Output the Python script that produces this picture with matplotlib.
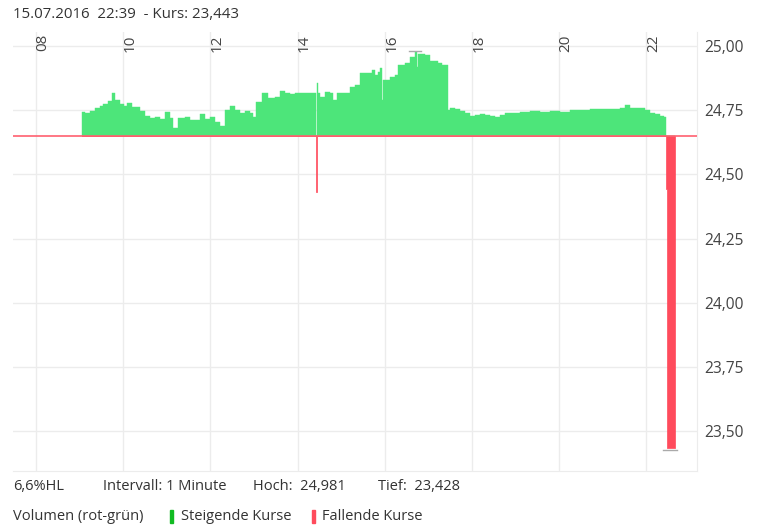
import matplotlib.pyplot as plt
import numpy as np

plt.rcParams['font.family'] = ['Open Sans', 'DejaVu Sans']

# minute prices (HH:MM, price)
times = ["09:03", "09:07", "09:14", "09:21", "09:28", "09:32", "09:39", "09:45", "09:49", "09:56",
         "10:01", "10:05", "10:12", "10:23", "10:30", "10:37", "10:44", "10:51", "10:58", "11:04",
         "11:09", "11:15", "11:25", "11:32", "11:46", "11:53", "11:59", "12:06", "12:13", "12:20",
         "12:27", "12:34", "12:41", "12:48", "12:54", "12:59", "13:03", "13:11", "13:19", "13:29",
         "13:36", "13:43", "13:50", "13:56", "14:03", "14:17", "14:24", "14:25", "14:27", "14:28",
         "14:31", "14:38", "14:45", "14:49", "14:54", "15:05", "15:12", "15:19", "15:26", "15:33",
         "15:40", "15:42", "15:46", "15:51", "15:53", "15:56", "15:58", "16:07", "16:14", "16:18",
         "16:28", "16:35", "16:42", "16:44", "16:46", "16:55", "17:02", "17:13", "17:19", "17:23",
         "17:27", "17:30", "17:37", "17:43", "17:50", "17:57", "18:04", "18:11", "18:18", "18:25",
         "18:32", "18:38", "18:45", "18:52", "19:06", "19:20", "19:34", "19:47", "20:01", "20:15",
         "20:29", "20:42", "20:56", "21:10", "21:24", "21:30", "21:37", "21:48", "21:58", "22:05",
         "22:12", "22:19", "22:24", "22:27", "22:28", "22:39"]
prices = [24.743, 24.739, 24.747, 24.759, 24.767, 24.774, 24.786, 24.817, 24.790, 24.774,
          24.767, 24.778, 24.763, 24.747, 24.728, 24.720, 24.724, 24.716, 24.743, 24.720,
          24.681, 24.720, 24.724, 24.712, 24.735, 24.716, 24.724, 24.704, 24.689, 24.751,
          24.767, 24.751, 24.739, 24.747, 24.739, 24.724, 24.782, 24.817, 24.798, 24.802,
          24.825, 24.817, 24.813, 24.817, 24.817, 24.817, 24.817, 24.430, 24.856, 24.817,
          24.802, 24.821, 24.817, 24.790, 24.817, 24.817, 24.840, 24.848, 24.895, 24.895,
          24.895, 24.907, 24.887, 24.899, 24.914, 24.790, 24.868, 24.879, 24.887, 24.926,
          24.934, 24.957, 24.977, 24.918, 24.969, 24.965, 24.942, 24.934, 24.926, 24.926,
          24.751, 24.759, 24.755, 24.747, 24.739, 24.728, 24.732, 24.735, 24.732, 24.728,
          24.724, 24.732, 24.739, 24.739, 24.743, 24.747, 24.743, 24.747, 24.743, 24.751,
          24.751, 24.755, 24.755, 24.755, 24.759, 24.770, 24.759, 24.759, 24.751, 24.739,
          24.735, 24.728, 24.724, 24.444, 23.436, 23.443]

prev_close = 24.65
high_price, high_time = 24.981, "16:42"
low_price, low_time = 23.428, "22:32"
hour_ticks = [8, 10, 12, 14, 16, 18, 20, 22]
price_ticks = [23.50, 23.75, 24.00, 24.25, 24.50, 24.75, 25.00]


def to_hours(s):
    h, m = s.split(":")
    return int(h) + int(m) / 60


t = np.array([to_hours(s) for s in times])
p = np.array(prices)

green = '#4de57a'
red = '#ff4b5c'
grid = '#ececec'
txt = '#333333'

fig = plt.figure(figsize=(7.62, 5.29), dpi=100)
ax = fig.add_axes([13 / 762, 1 - 471 / 529, (697 - 13) / 762, (471 - 32) / 529])

ax.fill_between(t, prev_close, np.maximum(p, prev_close), step='post',
                facecolor=green, edgecolor=green, lw=0.3)
ax.fill_between(t, prev_close, np.minimum(p, prev_close), step='post',
                facecolor=red, edgecolor=red, lw=0.5)
ax.axhline(prev_close, color='#ff6070', lw=1.2, zorder=3)

# high / low markers
ht = to_hours(high_time)
lt = to_hours(low_time)
ax.plot([ht - 0.14, ht + 0.14], [high_price, high_price], color='#aaaaaa', lw=1)
ax.plot([lt - 0.16, lt + 0.16], [low_price, low_price], color='#aaaaaa', lw=1)

ax.set_xlim(7.472, 23.161)
ax.set_ylim(23.346, 25.054)
ax.set_xticks(hour_ticks)
ax.set_yticks(price_ticks)
ax.grid(True, color=grid, lw=1)
ax.set_axisbelow(True)
ax.tick_params(axis='x', length=0, labelbottom=False)
ax.tick_params(axis='y', length=0, left=False, labelleft=False, labelright=True,
               labelsize=11.2, labelcolor='#444444', pad=5)
ax.set_yticklabels([f'{v:.2f}'.replace('.', ',') for v in price_ticks])
for side in ['left', 'top']:
    ax.spines[side].set_visible(False)
for side in ['right', 'bottom']:
    ax.spines[side].set_color(grid)

for h in hour_ticks:
    ax.text(h + 0.16, 0.995, f'{h:02d}', transform=ax.get_xaxis_transform(),
            rotation=90, ha='center', va='top', fontsize=11, color='#444444')

fig.text(13 / 762, 1 - 15 / 529, '15.07.2016  22:39  - Kurs: 23,443', fontsize=10.8,
         color=txt, va='center')

fs = 10.5
row1 = 1 - 486 / 529
fig.text(13 / 762, row1, '6,6%HL', fontsize=fs, color=txt, va='center')
fig.text(103 / 762, row1, 'Intervall: 1 Minute', fontsize=fs, color=txt, va='center')
fig.text(253 / 762, row1, 'Hoch:  24,981', fontsize=fs, color=txt, va='center')
fig.text(378 / 762, row1, 'Tief:  23,428', fontsize=fs, color=txt, va='center')

row2 = 1 - 516 / 529
fig.text(13 / 762, row2, 'Volumen (rot-grün)', fontsize=fs, color=txt, va='center')
fig.patches.append(plt.Rectangle((170 / 762, 1 - 523 / 529), 3 / 762, 13 / 529,
                                 transform=fig.transFigure, color='#11bb22'))
fig.text(181 / 762, row2, 'Steigende Kurse', fontsize=fs, color=txt, va='center')
fig.patches.append(plt.Rectangle((312 / 762, 1 - 523 / 529), 3 / 762, 13 / 529,
                                 transform=fig.transFigure, color=red))
fig.text(322 / 762, row2, 'Fallende Kurse', fontsize=fs, color=txt, va='center')

fig.savefig('out.png', dpi=100)
